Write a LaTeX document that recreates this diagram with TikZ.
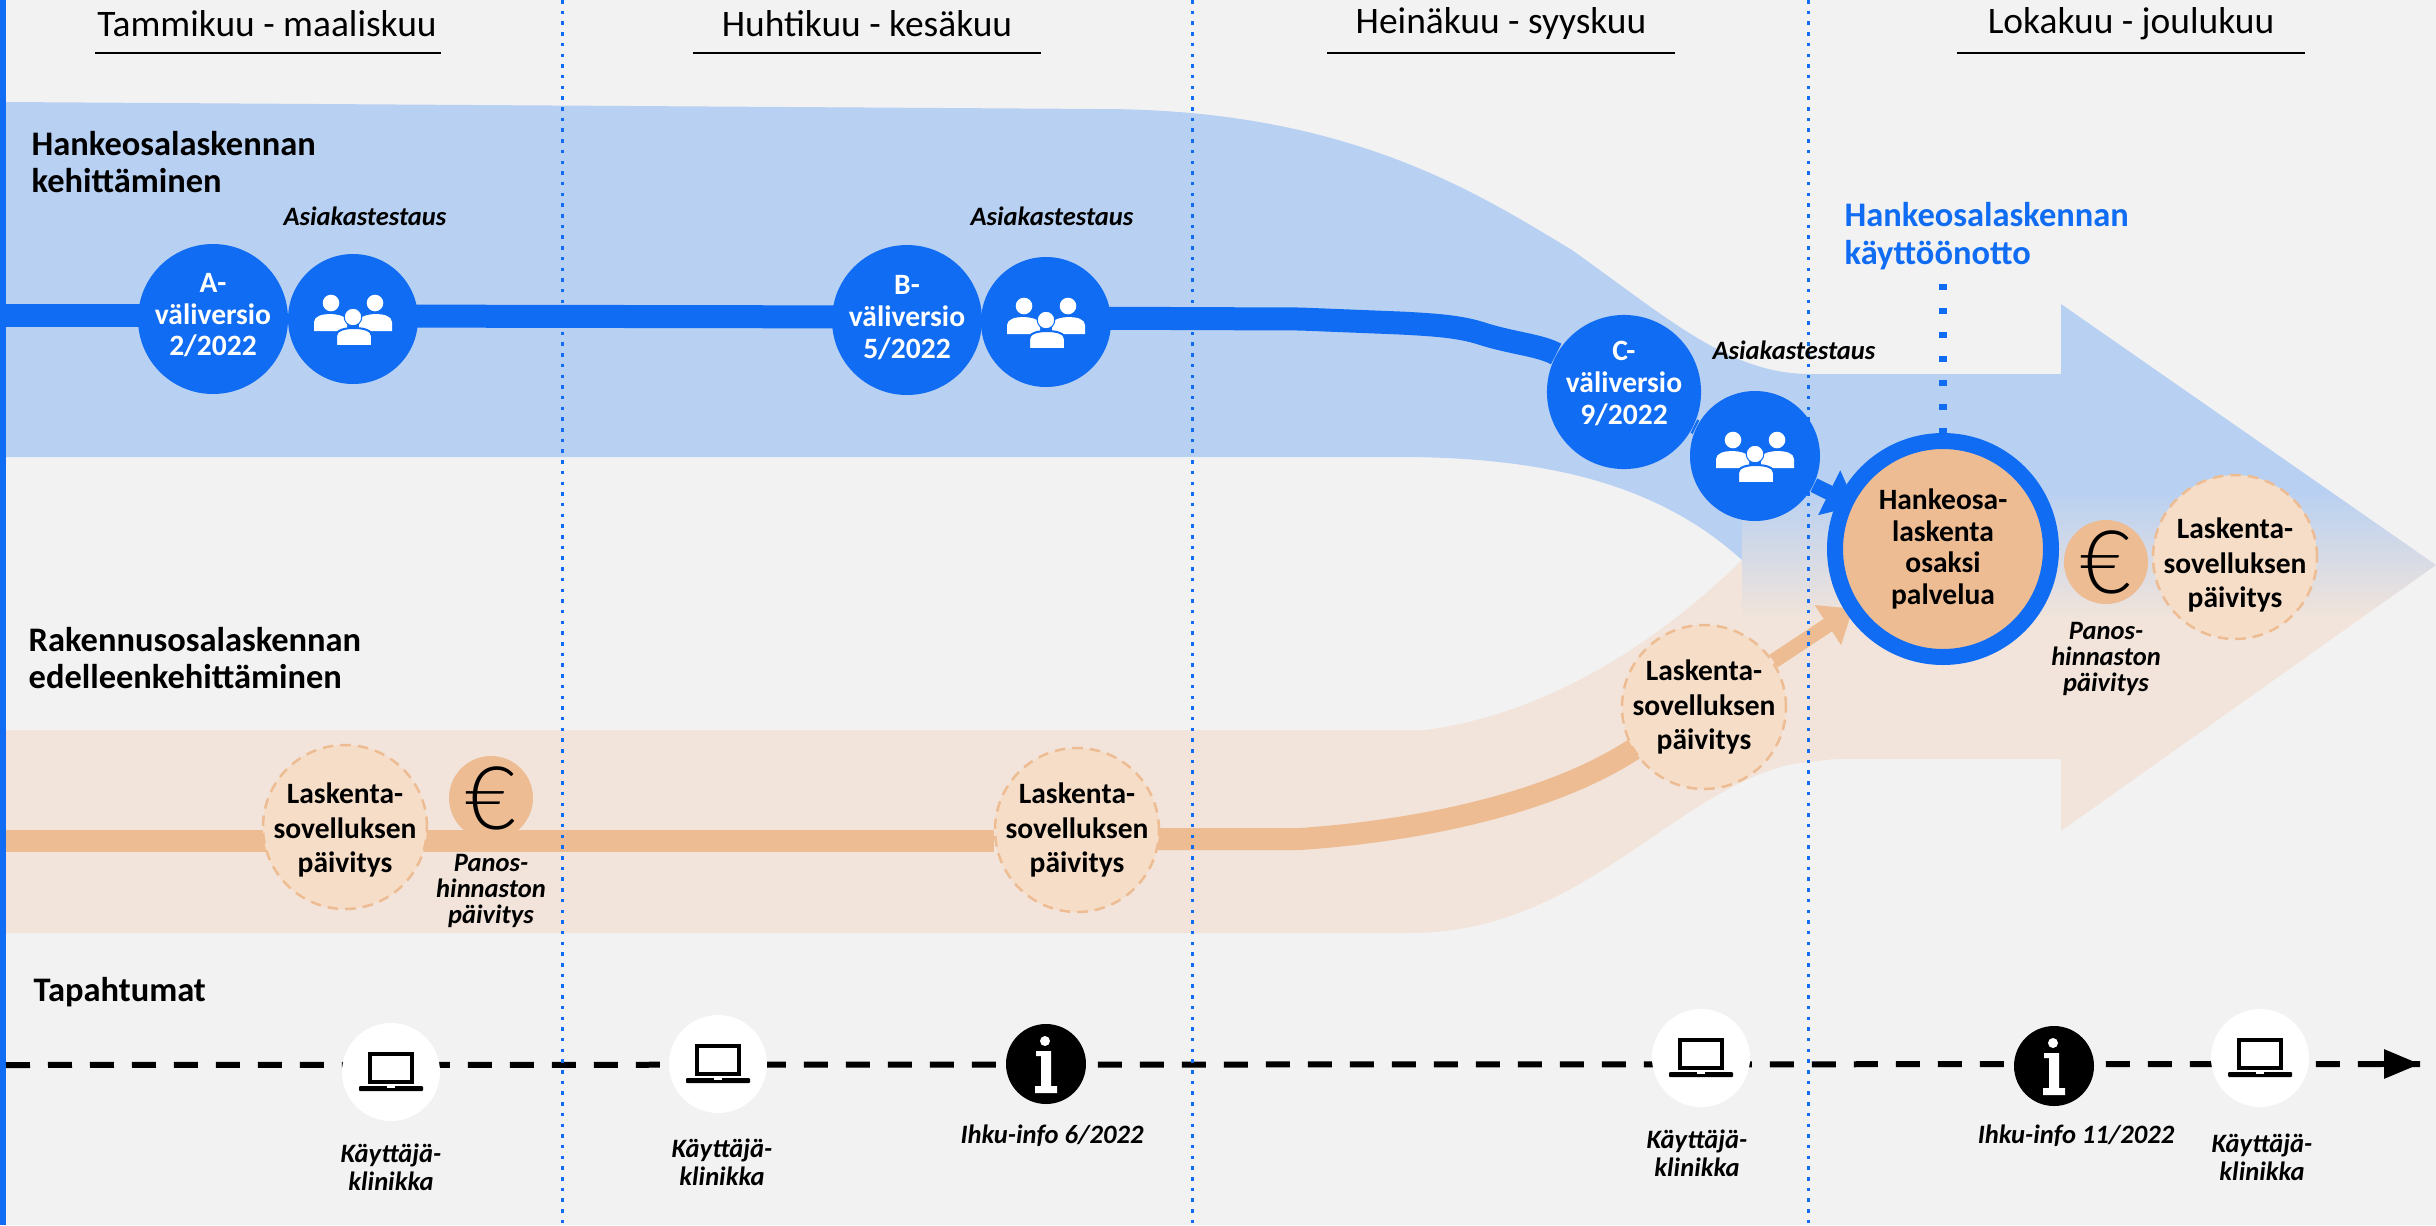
\documentclass[tikz,border=0pt]{standalone}
\usepackage{fontspec}
\setmainfont{Carlito}
\newfontfamily\eurofont{Lato Light}
\usetikzlibrary{arrows.meta}

\definecolor{bgrey}{HTML}{F2F2F2}
\definecolor{iblue}{HTML}{0F6CF3}
\definecolor{lblue}{HTML}{B8D0F2}
\definecolor{lpeach}{HTML}{F2E4DA}
\definecolor{mpeach}{HTML}{EDBC93}
\definecolor{upeach}{HTML}{F6DDC7}

\pgfdeclarelayer{front}
\pgfsetlayers{main,front}

\tikzset{
  hdr/.style={font=\fontsize{10.65}{12}\selectfont},
  grp/.style={font=\fontsize{9.8}{10.6}\selectfont\bfseries,align=left,anchor=west,inner sep=0pt},
  tag/.style={font=\fontsize{7.55}{8}\selectfont\bfseries\itshape,align=center,inner sep=0pt},
  pan/.style={font=\fontsize{7.55}{7.5}\selectfont\bfseries\itshape,align=center,inner sep=0pt},
  ver/.style={circle,fill=iblue,minimum size=1.5cm,inner sep=0pt,align=center,text=white,font=\fontsize{8.4}{9}\selectfont\bfseries},
  ppl/.style={circle,fill=iblue,minimum size=1.3cm,inner sep=0pt},
  upd/.style={circle,fill=upeach,draw=mpeach,densely dashed,line width=0.25mm,minimum size=1.64cm,inner sep=0pt},
  updt/.style={inner sep=0pt,align=center,font=\fontsize{8.4}{9.7}\selectfont\bfseries},
  eur/.style={circle,fill=mpeach,minimum size=0.84cm,inner sep=0pt,font=\fontsize{25}{25}\selectfont\eurofont},
  lap/.style={circle,fill=white,minimum size=0.98cm,inner sep=0pt},
  inf/.style={circle,fill=black,minimum size=0.8cm,inner sep=0pt},
  sep/.style={iblue,line width=0.3mm,dash pattern=on 0.35mm off 0.72mm},
  people/.pic={
    \fill[white] (-22,-16) circle (8.3);
    \fill[white] (22,-16) circle (8.3);
    \fill[white] (-39,12) -- (-39,3) .. controls (-39,-3) and (-30,-5) .. (-23,-5) .. controls (-16,-5) and (-9,-3) .. (-6,0) -- (-6,12) -- cycle;
    \fill[white] (39,12) -- (39,3) .. controls (39,-3) and (30,-5) .. (23,-5) .. controls (16,-5) and (9,-3) .. (6,0) -- (6,12) -- cycle;
    \draw[iblue,line width=0.2mm,fill=white] (-17,27) -- (-17,17) .. controls (-17,11) and (-8,9) .. (1,9) .. controls (10,9) and (19,11) .. (19,17) -- (19,27) -- cycle;
    \draw[iblue,line width=0.1mm,fill=white] (0,-2) circle (8.8);
  },
  laptop/.pic={
    \draw[black,line width=0.35mm] (-21,-18) rectangle (21,10);
    \fill[black,rounded corners=0.1mm] (-32,14) rectangle (32,19);
    \fill[white] (-4,14) rectangle (4,16);
  },
  infoi/.pic={
    \fill[white] (-1,-23) circle (5);
    \fill[white] (-10,-13) -- (5,-13) -- (5,22) -- (11,22) -- (11,29) -- (-11,29) -- (-11,22) -- (-5,22) -- (-5,-8) -- (-10,-8) -- cycle;
  },
}

\begin{document}
\begin{tikzpicture}[x=0.1mm,y=-0.1mm]
  \useasboundingbox (0,0) rectangle (2436,1225);
  \fill[bgrey] (0,0) rectangle (2436,1225);
  \fill[iblue] (0,0) rectangle (6,1225);

  % bands
  \fill[lblue] (6,102) -- (1100,109) .. controls (1350,109) and (1480,195) .. (1572,250)
    .. controls (1670,320) and (1730,374) .. (1810,374) -- (1810,500) -- (1742,500) -- (1742,560)
    .. controls (1670,495) and (1570,457) .. (1400,457) -- (6,457) -- cycle;
  \fill[lpeach] (6,730) -- (1425,730) .. controls (1540,715) and (1650,650) .. (1742,560)
    -- (1742,640) -- (1840,640) -- (1840,759) -- (1834,759) .. controls (1690,759) and (1600,933) .. (1410,933) -- (6,933) -- cycle;
  \begin{scope}
    \clip (1742,470) -- (1800,374) -- (2061,374) -- (2061,304) -- (2436,565) -- (2061,831) -- (2061,759) -- (1834,759) -- (1742,770) -- cycle;
    \fill[lblue] (1700,290) rectangle (2436,490);
    \shade[top color=lblue,bottom color=lpeach] (1700,490) rectangle (2436,620);
    \fill[lpeach] (1700,620) rectangle (2436,840);
  \end{scope}

  \node[hdr] (q1) at (267,24) {Tammikuu - maaliskuu};
  \node[hdr] (q2) at (867,24) {Huhtikuu - kesäkuu};
  \node[hdr] (q3) at (1501,24) {Heinäkuu - syyskuu};
  \node[hdr] (q4) at (2131,24) {Lokakuu - joulukuu};
  \draw[line width=0.25mm] (95,53) -- (441,53);
  \draw[line width=0.25mm] (693,53) -- (1041,53);
  \draw[line width=0.25mm] (1327,53) -- (1675,53);
  \draw[line width=0.25mm] (1957,53) -- (2305,53);

  \node[grp] (hke) at (31,162) {Hankeosalaskennan\\kehittäminen};
  \node[grp] (rke) at (28,658) {Rakennusosalaskennan\\edelleenkehittäminen};
  \node[grp] (tap) at (33,992) {Tapahtumat};
  \node[grp,text=iblue] (kay) at (1844,236) {Hankeosalaskennan\\käyttöönotto};

  % timeline
  \coordinate (evstart) at (6,1065);
  \coordinate (evend) at (2420,1064);
  \draw[line width=0.6mm,dash pattern=on 2.4mm off 1.8mm] (evstart) -- (evend);
  \coordinate (evtip) at (2380,1064);
  \draw[line width=0.6mm,-{Triangle[length=3.6mm,width=2.8mm]}] (evtip) -- (evend);

  \begin{pgfonlayer}{front}
    % blue track
    \node[ver,text depth=2.4pt] (vera) at (213,319) {A-\\väliversio\\2/2022};
    \node[ppl] (ppla) at (353,319) {};
    \node[ver,text depth=1.7pt] (verb) at (907,320) {B-\\väliversio\\5/2022};
    \node[ppl] (pplb) at (1046,322) {};
    \node[ver,text depth=5.3pt] (verc) at (1624,392) {C-\\väliversio\\9/2022};
    \node[ppl] (pplc) at (1755,456) {};
    \node[circle,fill=mpeach,draw=iblue,line width=1.6mm,minimum size=2.16cm,inner sep=0pt,align=center,font=\fontsize{8.4}{9}\selectfont\bfseries] (big) at (1943,549) {Hankeosa-\\laskenta\\osaksi\\palvelua};
    \pic at (ppla) {people};
    \pic at (pplb) {people};
    \pic at (pplc) {people};
    \node[tag] (asa) at (365,216) {Asiakastestaus};
    \node[tag] (asb) at (1052,216) {Asiakastestaus};
    \node[tag] (asc) at (1794,350) {Asiakastestaus};

    % peach track
    \node[upd] (upda) at (345,827) {};
    \node[upd] (updb) at (1077,830) {};
    \node[upd] (updc) at (1704,707) {};
    \node[upd] (updd) at (2235,557) {};
    \node[updt] (upta) at (345,830) {Laskenta-\\sovelluksen\\päivitys};
    \node[updt] (uptb) at (1077,830) {Laskenta-\\sovelluksen\\päivitys};
    \node[updt] (uptc) at (1704,707) {Laskenta-\\sovelluksen\\päivitys};
    \node[updt] (uptd) at (2235,565) {Laskenta-\\sovelluksen\\päivitys};
    \node[eur] (eura) at (491,798) {€};
    \node[eur] (eurb) at (2106,562) {€};
    \node[pan] (pana) at (491,891) {Panos-\\hinnaston\\päivitys};
    \node[pan] (panb) at (2106,659) {Panos-\\hinnaston\\päivitys};

    % events
    \node[lap] (lapa) at (391,1072) {};
    \node[lap] (lapb) at (718,1064) {};
    \node[inf] (infa) at (1046,1064) {};
    \node[lap] (lapc) at (1701,1058) {};
    \node[inf] (infb) at (2054,1066) {};
    \node[lap] (lapd) at (2260,1058) {};
    \pic at (lapa) {laptop};
    \pic at (lapb) {laptop};
    \pic at (lapc) {laptop};
    \pic at (lapd) {laptop};
    \pic at (infa) {infoi};
    \pic at (infb) {infoi};
    \node[tag] (kla) at (391,1167) {Käyttäjä-\\klinikka};
    \node[tag] (klb) at (722,1162) {Käyttäjä-\\klinikka};
    \node[tag] (ifa) at (1052,1136) {Ihku-info 6/2022};
    \node[tag] (klc) at (1697,1153) {Käyttäjä-\\klinikka};
    \node[tag] (ifb) at (2076,1136) {Ihku-info 11/2022};
    \node[tag] (kld) at (2262,1157) {Käyttäjä-\\klinikka};
  \end{pgfonlayer}

  % tracks
  \coordinate (bstart) at (6,315);
  \coordinate (kaydot) at (1943,284);
  \draw[iblue,line width=2.3mm] (bstart) -- (bstart -| vera);
  \draw[iblue,line width=2.3mm] (ppla.center) ++(0,-3) -- (verb.center |- 0,317);
  \draw[iblue,line width=2.3mm] (pplb.center) ++(0,-4) -- (1300,319) -- (1400,323) .. controls (1440,325) and (1460,327) .. (1480,333) .. controls (1510,343) and (1540,345) .. (verc);
  \draw[iblue,line width=1.5mm] (verc) -- (pplc);
  \draw[iblue,line width=1.5mm,shorten >=-1.9mm,-{Triangle[length=3mm,width=4.8mm]}] (pplc) -- (big);
  \draw[iblue,line width=0.8mm,dash pattern=on 0.6mm off 1.8mm] (kaydot) -- (big);
  \coordinate (pstart) at (6,841);
  \draw[mpeach,line width=2.2mm] (pstart) -- (pstart -| upda);
  \draw[mpeach,line width=2.2mm] (upda.center) ++(0,14) -- (updb.west |- 0,841);
  \draw[mpeach,line width=2.2mm] (updb.center) ++(0,9) -- (1300,839) .. controls (1430,830) and (1560,800) .. (1640,745) -- (updc);
  \draw[mpeach,line width=1.5mm,shorten >=-0.8mm,-{Triangle[length=3mm,width=4.6mm]}] (updc) -- (big);

  % quarters
  \draw[sep] (562,0) -- (562,1225);
  \draw[sep] (1192,0) -- (1192,1225);
  \draw[sep] (1808,0) -- (1808,1225);
\end{tikzpicture}
\end{document}
